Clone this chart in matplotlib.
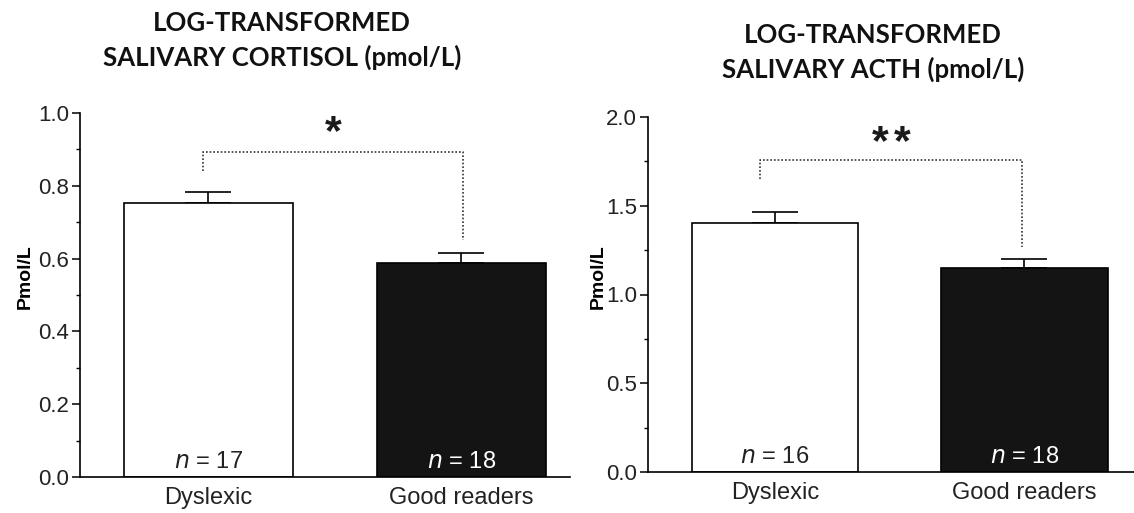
import matplotlib
matplotlib.use("Agg")
import matplotlib.pyplot as plt
import numpy as np

groups = ["Dyslexic", "Good readers"]

cortisol_mean = [0.753, 0.588]
cortisol_sem = [0.030, 0.027]
cortisol_n = [17, 18]

acth_mean = [1.405, 1.150]
acth_sem = [0.057, 0.050]
acth_n = [16, 18]

titles = ["LOG-TRANSFORMED\nSALIVARY CORTISOL (pmol/L)",
          "LOG-TRANSFORMED\nSALIVARY ACTH (pmol/L)"]
star_counts = [1, 2]

plt.rcParams['font.family'] = ['Liberation Sans', 'DejaVu Sans']

fig = plt.figure(figsize=(11.34, 5.13), dpi=100)

panels = [
    dict(rect=[80/1134, 36/513, 490/1134, 364/513], mean=cortisol_mean, sem=cortisol_sem,
         n=cortisol_n, ylim=(0, 1.0), major=0.2, minor=0.1, xlim=(-0.508, 1.43),
         bracket=(0.894, 0.842, 0.652), bx=(-0.02, 1.008), star_y=0.915,
         title_x=282/1134, title_y=1 - 11/513, ylab_x=25/1134),
    dict(rect=[648/1134, 41/513, 486/1134, 355/513], mean=acth_mean, sem=acth_sem,
         n=acth_n, ylim=(0, 2.0), major=0.5, minor=0.25, xlim=(-0.509, 1.439),
         bracket=(1.756, 1.653, 1.265), bx=(-0.06, 0.99), star_y=1.79,
         title_x=873/1134, title_y=1 - 23/513, ylab_x=598/1134),
]

for i, p in enumerate(panels):
    ax = fig.add_axes(p["rect"])
    x = [0, 1]
    ax.bar(x, p["mean"], width=0.668, color=["white", "#141414"], edgecolor="black",
           linewidth=1.2, zorder=2)
    ax.errorbar(x, p["mean"], yerr=[[0, 0], p["sem"]], fmt="none", ecolor="black",
                elinewidth=1.2, capsize=16.5, capthick=1.2, zorder=1)
    ax.set_xlim(*p["xlim"])
    ax.set_ylim(*p["ylim"])
    majors = np.arange(0, p["ylim"][1] + 1e-9, p["major"])
    ax.set_yticks(majors)
    ax.set_yticks(np.arange(0, p["ylim"][1] + 1e-9, p["minor"]), minor=True)
    ax.set_yticklabels(["{:.1f}".format(v) for v in majors])
    ax.set_xticks(x)
    ax.set_xticklabels(groups, fontsize=17, color="#222222")
    ax.tick_params(axis="x", length=0, pad=7)
    ax.tick_params(axis="y", which="major", length=6, width=1.1, labelsize=16, pad=2,
                   labelcolor="#222222")
    ax.tick_params(axis="y", which="minor", length=3, width=1.0)
    for s in ["top", "right"]:
        ax.spines[s].set_visible(False)
    for s in ["left", "bottom"]:
        ax.spines[s].set_linewidth(1.2)
    for xi, ni, col in zip(x, p["n"], ["#222222", "white"]):
        ax.text(xi, p["ylim"][1] * 0.012, r"$\it{n}$ = " + str(ni), ha="center", va="bottom",
                fontsize=17, color=col)
    top, l_bot, r_bot = p["bracket"]
    xl, xr = p["bx"]
    ax.plot([xl, xl, xr, xr], [l_bot, top, top, r_bot], color="#333333", linestyle=(0, (1, 1.2)),
            linewidth=1.2, clip_on=False)
    k = star_counts[i]
    sep = 15.5
    for j in range(k):
        off = (j - (k - 1) / 2) * sep
        ax.annotate("*", xy=((xl + xr) / 2, p["star_y"]), xytext=(off, 0),
                    textcoords="offset points", ha="center", va="baseline", fontsize=31,
                    fontweight="bold", annotation_clip=False, color="#1a1a1a")
    fig.text(p["ylab_x"], p["rect"][1] + p["rect"][3] * 0.55, "Pmol/L", rotation=90,
             ha="center", va="center", fontsize=14, fontweight="bold")
    fig.text(p["title_x"], p["title_y"], titles[i], ha="center", va="top", fontsize=18.5,
             fontweight="bold", family=["Lato", "DejaVu Sans"], linespacing=1.45,
             color="#111111")

fig.savefig("out.png", dpi=100)
